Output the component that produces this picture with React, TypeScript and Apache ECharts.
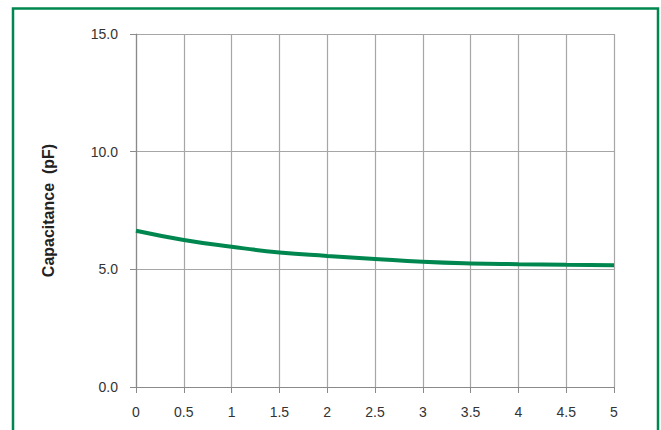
import React, { useEffect, useRef } from "react";
import * as echarts from "echarts";

const xValues = [0, 0.5, 1, 1.5, 2, 2.5, 3, 3.5, 4, 4.5, 5];
const capacitance = [6.64, 6.25, 5.96, 5.72, 5.57, 5.44, 5.32, 5.25, 5.22, 5.2, 5.17];
const yAxisName = "Capacitance  (pF)";
const GREEN = "#00874F";

export default function App() {
  const ref = useRef<HTMLDivElement>(null);
  useEffect(() => {
    if (!ref.current) return;
    const chart = echarts.init(ref.current, undefined, { renderer: "svg" });
    chart.setOption({
      animation: false,
      backgroundColor: "#ffffff",
      textStyle: { fontFamily: "Liberation Sans, Arial, sans-serif" },
      grid: { left: 136, right: 47, top: 34, bottom: 43, containLabel: false },
      graphic: [
        {
          type: "rect",
          shape: { x: 13, y: 8.5, width: 645, height: 440 },
          style: { fill: "none", stroke: GREEN, lineWidth: 2.5 },
          silent: true,
        },
      ],
      xAxis: {
        type: "value",
        min: 0,
        max: 5,
        interval: 0.5,
        axisLine: { show: true, lineStyle: { color: "#8a8a8a", width: 1.2 } },
        axisTick: { show: true, length: 6, lineStyle: { color: "#8a8a8a" } },
        axisLabel: { color: "#333", fontSize: 14, margin: 18 },
        splitLine: { show: true, lineStyle: { color: "#a6a6a6", width: 1.2 } },
      },
      yAxis: {
        type: "value",
        min: 0,
        max: 15,
        interval: 5,
        name: yAxisName,
        nameLocation: "middle",
        nameGap: 80,
        nameTextStyle: { color: "#222", fontSize: 16, fontWeight: "bold" },
        axisLine: { show: true, lineStyle: { color: "#8a8a8a", width: 1.2 } },
        axisTick: { show: true, length: 6, lineStyle: { color: "#8a8a8a" } },
        axisLabel: {
          color: "#333",
          fontSize: 14,
          margin: 18,
          formatter: (v: number) => v.toFixed(1),
        },
        splitLine: { show: true, lineStyle: { color: "#a6a6a6", width: 1.2 } },
      },
      series: [
        {
          type: "line",
          data: xValues.map((x, i) => [x, capacitance[i]]),
          smooth: true,
          showSymbol: false,
          lineStyle: { color: GREEN, width: 4 },
        },
      ],
    });
    return () => chart.dispose();
  }, []);
  return (
    <div
      ref={ref}
      style={{ position: "absolute", left: 0, top: 0, width: 661, height: 430 }}
    />
  );
}
